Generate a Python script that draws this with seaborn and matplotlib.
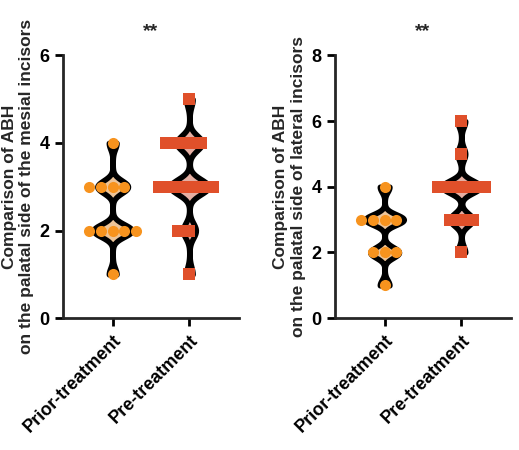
import matplotlib
matplotlib.use("Agg")
import matplotlib.pyplot as plt
import seaborn as sns
import pandas as pd
import numpy as np

groups = ["Prior-treatment", "Pre-treatment"]
# score: count
left_prior = {1: 1, 2: 5, 3: 4, 4: 1}
left_pre = {1: 1, 2: 2, 3: 6, 4: 4, 5: 1}
right_prior = {1: 1, 2: 3, 3: 4, 4: 1}
right_pre = {2: 1, 3: 3, 4: 5, 5: 1, 6: 1}
ylabels = ["Comparison of ABH\non the palatal side of the mesial incisors",
           "Comparison of ABH\non the palatal side of lateral incisors"]
ymax = [6, 8]
point_colors = ["#F7931E", "#E0502A"]
fill_colors = ["#FBC58A", "#F0A898"]

def expand(d, g):
    return [(g, k) for k, n in d.items() for _ in range(n)]

sns.set_theme(style="ticks")
plt.rcParams['font.family'] = ['Liberation Sans', 'DejaVu Sans']
fig = plt.figure(figsize=(5.19, 4.5), dpi=100)
axes = [fig.add_axes([0.121, 0.293, 0.34, 0.584]), fig.add_axes([0.645, 0.293, 0.34, 0.584])]
datasets = [(left_prior, left_pre), (right_prior, right_pre)]
for i, ax in enumerate(axes):
    a, b = datasets[i]
    df = pd.DataFrame(expand(a, groups[0]) + expand(b, groups[1]), columns=["g", "v"])
    sns.violinplot(data=df, x="g", y="v", hue="g", order=groups, palette=fill_colors, cut=0,
                   bw_adjust=0.28, inner=None, linewidth=4, linecolor="black",
                   width=0.5, ax=ax, legend=False, density_norm="width")
    for j, (g, m) in enumerate(zip(groups, ["o", "s"])):
        sub = df[df.g == g]
        sns.swarmplot(data=sub, x="g", y="v", order=groups, color=point_colors[j], marker=m,
                      size=8, ax=ax, linewidth=0)
    ax.set_ylim(0, ymax[i])
    ax.set_yticks(np.arange(0, ymax[i] + 1, 2))
    ax.set_xlim(-0.65, 1.65)
    ax.set_xlabel("")
    ax.set_ylabel(ylabels[i], fontsize=12.5, fontweight="bold")
    ax.set_title("**", fontsize=14, fontweight="bold", pad=14)
    for s in ["top", "right"]:
        ax.spines[s].set_visible(False)
    for s in ["left", "bottom"]:
        ax.spines[s].set_linewidth(2)
    ax.tick_params(width=2, length=6, labelsize=13, colors="black")
    for t in ax.get_yticklabels():
        t.set_fontweight("bold")
    ax.set_xticks([0, 1])
    ax.set_xticklabels(groups, rotation=45, ha="right", rotation_mode="anchor", fontweight="bold", fontsize=13)
fig.savefig("out.png", dpi=100)
